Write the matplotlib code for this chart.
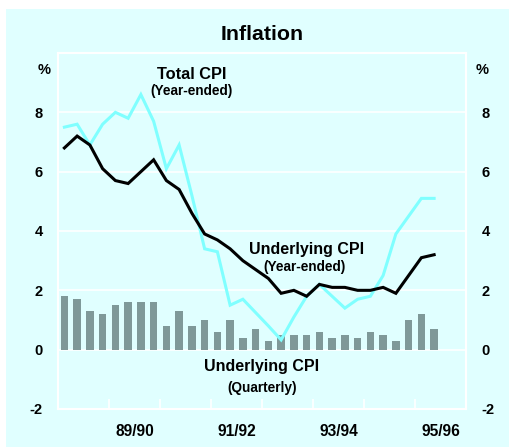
import matplotlib
matplotlib.use("Agg")
import matplotlib.pyplot as plt
from matplotlib.patches import Rectangle
import numpy as np

plt.rcParams['font.family'] = ['Liberation Sans', 'DejaVu Sans']
plt.rcParams['font.weight'] = 'bold'

# Quarterly data, Sep-1988 .. Dec-1995
underlying_quarterly = [1.8, 1.7, 1.3, 1.2, 1.5, 1.6, 1.6, 1.6, 0.8, 1.3,
                        0.8, 1.0, 0.6, 1.0, 0.4, 0.7, 0.3, 0.5, 0.5, 0.5,
                        0.6, 0.4, 0.5, 0.4, 0.6, 0.5, 0.3, 1.0, 1.2, 0.7]
underlying_year_ended = [6.8, 7.2, 6.9, 6.1, 5.7, 5.6, 6.0, 6.4, 5.7, 5.4,
                         4.6, 3.9, 3.7, 3.4, 3.0, 2.7, 2.4, 1.9, 2.0, 1.8,
                         2.2, 2.1, 2.1, 2.0, 2.0, 2.1, 1.9, 2.5, 3.1, 3.2]
total_cpi = [7.5, 7.6, 6.9, 7.6, 8.0, 7.8, 8.6, 7.7, 6.1, 6.9,
             5.2, 3.4, 3.3, 1.5, 1.7, 1.25, 0.8, 0.33, 1.1, 1.8,
             2.2, 1.8, 1.4, 1.7, 1.8, 2.5, 3.9, 4.5, 5.1, 5.1]
year_labels = ['89/90', '91/92', '93/94', '95/96']
yticks = [-2, 0, 2, 4, 6, 8]

BG = '#E0FFFF'
fig = plt.figure(figsize=(5.10, 4.47), dpi=100, facecolor='white')
fig.patches.append(Rectangle((6/510, 0), 1 - 6/510, 1 - 9/447,
                             transform=fig.transFigure, facecolor=BG,
                             edgecolor='none', zorder=-10))

ax = fig.add_axes([58/510, 38/447, 408/510, 356/447])
ax.set_facecolor(BG)

x = np.arange(len(underlying_quarterly))
ax.bar(x, underlying_quarterly, width=0.6, color='#7F9999', zorder=2)
ax.plot(x, total_cpi, color='#80FFFF', lw=2.2, zorder=3, solid_joinstyle='miter')
ax.plot(x, underlying_year_ended, color='black', lw=2.2, zorder=4, solid_joinstyle='miter')

ax.set_xlim(-0.5, 31.5)
ax.set_ylim(-2, 10)

ax.set_yticks(yticks)
ax.set_yticklabels([str(v) for v in yticks])
ax.tick_params(axis='y', length=0, labelsize=10.5, pad=11,
               left=True, right=True, labelleft=True, labelright=True)
for lab in ax.get_yticklabels():
    lab.set_fontweight('bold')
ax.yaxis.grid(True, color='white', lw=1.2, zorder=1)
ax.set_axisbelow(True)

ax.set_xticks(np.arange(3.5, 31.5, 4))
ax.set_xticklabels([])
ax.tick_params(axis='x', which='major', direction='in', length=7,
               color='white', width=1.2)
ax.set_xticks(np.arange(5.5, 32, 8), minor=True)
ax.set_xticklabels(year_labels, minor=True, fontsize=11.2, fontweight='bold')
ax.tick_params(axis='x', which='minor', length=0, pad=11)

for s in ax.spines.values():
    s.set_color('white')
    s.set_linewidth(1.5)

fig.text(262/510, 1 - 34/447, 'Inflation', ha='center', va='center',
         fontsize=15.4, fontweight='bold')
fig.text(44/510, 1 - 70/447, '%', ha='center', va='center', fontsize=10.5, fontweight='bold')
fig.text(482/510, 1 - 70/447, '%', ha='center', va='center', fontsize=10.5, fontweight='bold')

ax.text(0.328, 0.941, 'Total CPI', transform=ax.transAxes, ha='center', va='center',
        fontsize=11.8, fontweight='bold')
ax.text(0.328, 0.893, '(Year-ended)', transform=ax.transAxes, ha='center', va='center',
        fontsize=9.8, fontweight='bold')
ax.text(0.610, 0.449, 'Underlying CPI', transform=ax.transAxes, ha='center', va='center',
        fontsize=11.5, fontweight='bold')
ax.text(0.603, 0.399, '(Year-ended)', transform=ax.transAxes, ha='center', va='center',
        fontsize=9.8, fontweight='bold')
ax.text(0.5, 0.118, 'Underlying CPI', transform=ax.transAxes, ha='center', va='center',
        fontsize=11.5, fontweight='bold')
ax.text(0.5, 0.059, '(Quarterly)', transform=ax.transAxes, ha='center', va='center',
        fontsize=9.8, fontweight='bold')

fig.savefig('out.png', dpi=100, facecolor='white')
